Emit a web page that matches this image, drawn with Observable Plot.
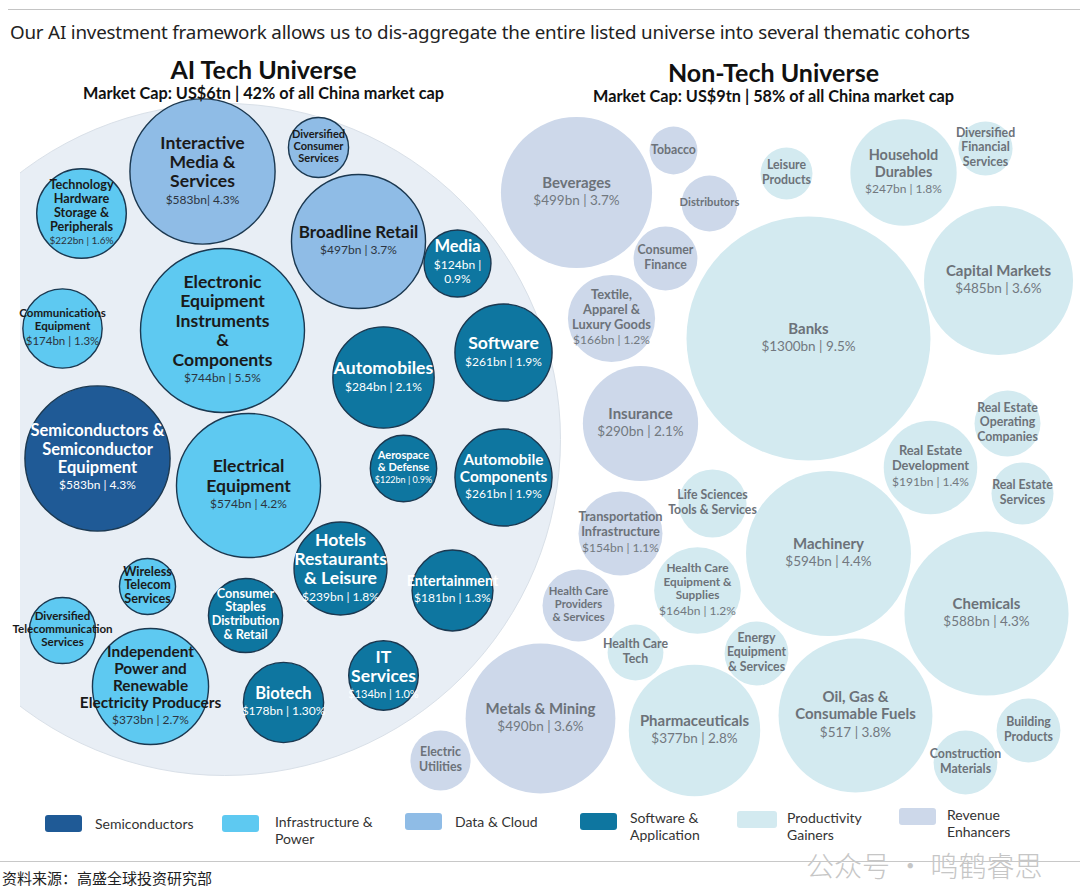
<!DOCTYPE html>
<html>
<head>
<meta charset="utf-8">
<script src="https://cdn.jsdelivr.net/npm/d3@7"></script>
<script src="https://cdn.jsdelivr.net/npm/@observablehq/plot@0.6"></script>
<style>
  html, body { margin: 0; padding: 0; background: #fff; }
  body { width: 1080px; height: 895px; position: relative; overflow: hidden; font-family: Lato, "Noto Sans", sans-serif; }
  #topline { position: absolute; left: 8px; right: 0; top: 9px; border-top: 1.5px solid #c4c4c4; }
  #title { position: absolute; left: 10px; top: 19px; font-size: 18.8px; color: #222; white-space: nowrap; font-family: "Noto Sans", Lato, sans-serif; letter-spacing: -0.2px; }
  #chart { position: absolute; left: 0; top: 50px; width: 1080px; height: 750px; }
  #chart svg { position: absolute; left: 0; top: 0; }
  .sw { position: absolute; height: 17px; border-radius: 3px; }
  .lg { position: absolute; font-size: 14px; line-height: 17px; color: #333; white-space: nowrap; }
  #botline { position: absolute; left: 0; right: 0; top: 861px; border-top: 1px solid #c8c8c8; }
  #foot { position: absolute; left: 2px; top: 867px; font-size: 15px; color: #222; font-family: "Noto Sans CJK SC", sans-serif; }
  #wm { position: absolute; left: 806px; top: 851px; font-size: 28px; line-height: 28px; color: #c6c6c6; font-family: "Noto Sans CJK SC", sans-serif; font-weight: 300; white-space: nowrap; }
</style>
</head>
<body>
<div id="topline"></div>
<div id="title"></div>
<div id="chart"></div>
<div id="legend"></div>
<div id="wm">公众号 · 鸣鹤睿思</div>
<div id="botline"></div>
<div id="foot"></div>
<script>
// ---------------- DATA ----------------
const chartTitle = "Our AI investment framework allows us to dis-aggregate the entire listed universe into several thematic cohorts";
const universeTitles = ["AI Tech Universe", "Non-Tech Universe"];
const universeSubtitles = ["Market Cap: US$6tn | 42% of all China market cap", "Market Cap: US$9tn | 58% of all China market cap"];
const sourceNote = "资料来源：高盛全球投资研究部";

const themes = ["Semiconductors", "Infrastructure & Power", "Data & Cloud", "Software & Application", "Productivity Gainers", "Revenue Enhancers"];
const legendLabels = ["Semiconductors", "Infrastructure &\nPower", "Data & Cloud", "Software &\nApplication", "Productivity\nGainers", "Revenue\nEnhancers"];

// AI Tech universe (market cap, US$bn; unlabeled bubbles estimated from size)
const aiCategories = [
  "Interactive\nMedia &\nServices",
  "Diversified\nConsumer\nServices",
  "Technology\nHardware\nStorage &\nPeripherals",
  "Broadline Retail",
  "Media",
  "Electronic\nEquipment\nInstruments\n&\nComponents",
  "Communications\nEquipment",
  "Automobiles",
  "Software",
  "Semiconductors &\nSemiconductor\nEquipment",
  "Electrical\nEquipment",
  "Aerospace\n& Defense",
  "Automobile\nComponents",
  "Hotels\nRestaurants\n& Leisure",
  "Entertainment",
  "Wireless\nTelecom\nServices",
  "Diversified\nTelecommunication\nServices",
  "Consumer\nStaples\nDistribution\n& Retail",
  "Independent\nPower and\nRenewable\nElectricity Producers",
  "Biotech",
  "IT\nServices"
];
const aiMarketCap = [583, 100, 222, 497, 124, 744, 174, 284, 261, 583, 574, 122, 261, 239, 181, 87, 121, 152, 373, 178, 134];
const aiCapText = ["$583bn| 4.3%", null, "$222bn | 1.6%", "$497bn | 3.7%", "$124bn |\n0.9%", "$744bn | 5.5%", "$174bn | 1.3%", "$284bn | 2.1%", "$261bn | 1.9%", "$583bn | 4.3%", "$574bn | 4.2%", "$122bn | 0.9%", "$261bn | 1.9%", "$239bn | 1.8%", "$181bn | 1.3%", null, null, null, "$373bn | 2.7%", "$178bn | 1.30%", "$134bn | 1.0%"];
const aiTheme = ["Data & Cloud", "Data & Cloud", "Infrastructure & Power", "Data & Cloud", "Software & Application", "Infrastructure & Power", "Infrastructure & Power", "Software & Application", "Software & Application", "Semiconductors", "Infrastructure & Power", "Software & Application", "Software & Application", "Software & Application", "Software & Application", "Infrastructure & Power", "Infrastructure & Power", "Software & Application", "Infrastructure & Power", "Software & Application", "Software & Application"];

// Non-Tech universe
const ntCategories = [
  "Beverages", "Tobacco", "Distributors", "Consumer\nFinance", "Leisure\nProducts",
  "Household\nDurables", "Diversified\nFinancial\nServices", "Textile,\nApparel &\nLuxury Goods", "Banks", "Capital Markets",
  "Insurance", "Real Estate\nOperating\nCompanies", "Real Estate\nDevelopment", "Real Estate\nServices", "Life Sciences\nTools & Services",
  "Transportation\nInfrastructure", "Machinery", "Chemicals", "Health Care\nProviders\n& Services", "Health Care\nEquipment &\nSupplies",
  "Health Care\nTech", "Energy\nEquipment\n& Services", "Metals & Mining", "Pharmaceuticals", "Oil, Gas &\nConsumable Fuels",
  "Electric\nUtilities", "Building\nProducts", "Construction\nMaterials"
];
const ntMarketCap = [499, 50, 68, 89, 59, 247, 64, 166, 1300, 485, 290, 95, 191, 84, 101, 154, 594, 588, 113, 164, 68, 89, 490, 377, 517, 79, 89, 89];
const ntCapText = ["$499bn | 3.7%", null, null, null, null, "$247bn | 1.8%", null, "$166bn | 1.2%", "$1300bn | 9.5%", "$485bn | 3.6%", "$290bn | 2.1%", null, "$191bn | 1.4%", null, null, "$154bn | 1.1%", "$594bn | 4.4%", "$588bn | 4.3%", null, "$164bn | 1.2%", null, null, "$490bn | 3.6%", "$377bn | 2.8%", "$517 | 3.8%", null, null, null];
const ntTheme = ["Revenue Enhancers", "Revenue Enhancers", "Revenue Enhancers", "Revenue Enhancers", "Productivity Gainers", "Productivity Gainers", "Productivity Gainers", "Revenue Enhancers", "Productivity Gainers", "Productivity Gainers", "Revenue Enhancers", "Productivity Gainers", "Productivity Gainers", "Productivity Gainers", "Productivity Gainers", "Revenue Enhancers", "Productivity Gainers", "Productivity Gainers", "Revenue Enhancers", "Productivity Gainers", "Productivity Gainers", "Productivity Gainers", "Revenue Enhancers", "Productivity Gainers", "Productivity Gainers", "Revenue Enhancers", "Productivity Gainers", "Productivity Gainers"];

// ---------------- LAYOUT (bubble-pack centres, chart units) ----------------
const aiCentres = [[202,171],[318,147],[81,213],[358,241],[457,263],[222,330],[62,328],[383,377],[503,352],[97,458],[248,485],[403,468],[503,477],[340,568],[452,590],[147,586],[62,630],[245,615],[150,686],[283,702],[383,675]];
const aiEnvelope = {x: 224, y: 439};
const ntCentres = [[576,192],[673,150],[709,203],[665,258],[786,173],[903,172],[985,148],[611,318],[808,338],[998,280],[640,423],[1007,423],[930,467],[1022,493],[712,503],[620,533],[828,553],[986,613],[578,605],[697,590],[635,652],[756,653],[540,718],[694,730],[855,715],[440,760],[1028,730],[965,762]];
const titleAnchors = [[263, 70], [773, 73]];

// ---------------- STYLE ----------------
const themeColors = ["#1f5a96", "#5ec9f1", "#8fbce6", "#0e76a0", "#d3eaf0", "#cdd8ea"];
const darkThemes = new Set(["Semiconductors", "Software & Application"]);
const aiNameSize = {"Broadline Retail": 15.5, "Semiconductors & Semiconductor Equipment": 15, "Biotech": 15, "Media": 15,
  "Automobile Components": 14, "Independent Power and Renewable Electricity Producers": 14, "Technology Hardware Storage & Peripherals": 11.5,
  "Communications Equipment": 10.5, "Consumer Staples Distribution & Retail": 11.5, "Wireless Telecom Services": 11.5,
  "Diversified Telecommunication Services": 10.5, "Diversified Consumer Services": 10, "Aerospace & Defense": 10, "Entertainment": 13};
const aiValSize = {"Technology Hardware Storage & Peripherals": 10, "Aerospace & Defense": 9, "Communications Equipment": 11.5, "IT Services": 11};
const ntNameSize = {"Household Durables": 13.5, "Textile, Apparel & Luxury Goods": 12, "Transportation Infrastructure": 12,
  "Real Estate Development": 12, "Health Care Equipment & Supplies": 11, "Distributors": 10.5, "Health Care Providers & Services": 10.5,
  "Real Estate Services": 11.5, "Health Care Tech": 11.5, "Energy Equipment & Services": 11.5};

const FONT = "Lato, 'Noto Sans', sans-serif";
const W = 1080, H = 750, TOP = 50;

function rows(names, caps, texts, th, centres) {
  return names.map((name, i) => ({
    name, key: name.replace(/\n/g, " "), cap: caps[i], capText: texts[i], theme: th[i],
    x: centres[i][0], y: centres[i][1]
  }));
}
const ai = rows(aiCategories, aiMarketCap, aiCapText, aiTheme, aiCentres);
const nt = rows(ntCategories, ntMarketCap, ntCapText, ntTheme, ntCentres);

const VLH = 1.2, GAP = 1;
function sizes(d, nameMap, valMap, defName, defVal, smallName, widen, nlh) {
  let ns = nameMap[d.key];
  if (ns == null) ns = (d.capText == null && smallName) ? smallName : defName;
  ns *= widen;
  const vs = (valMap && valMap[d.key]) || defVal;
  const nl = d.name.split("\n").length;
  const vl = d.capText ? d.capText.split("\n").length : 0;
  const nh = nl * nlh * ns;
  const total = nh + (vl ? GAP + vl * VLH * vs : 0);
  return {ns, vs, top: d.y - total / 2, valTop: d.y - total / 2 + nh + GAP};
}
const AI_LH = 1.1, NT_LH = 1.16;
const aiS = d => sizes(d, aiNameSize, aiValSize, 16, 12, null, 1.1, AI_LH);
const ntS = d => {
  const big = d.cap >= 280;
  return sizes(d, ntNameSize, null, big ? 14 : 12.5, big ? 13.5 : 12, 11.5, 1.07, NT_LH);
};

function labelMarks(data, S, keep, nameFill, valFill, nlh) {
  return [
    Plot.text(data, {filter: keep, x: "x", y: d => S(d).top, text: "name", lineAnchor: "top", lineHeight: nlh,
      fontSize: d => S(d).ns, fontWeight: 700, fill: nameFill, fontFamily: FONT}),
    Plot.text(data, {filter: d => keep(d) && d.capText, x: "x", y: d => S(d).valTop, text: "capText", lineAnchor: "top", lineHeight: VLH,
      fontSize: d => S(d).vs, fontWeight: 400, fill: valFill, fontFamily: FONT})
  ];
}

const common = {
  width: W, height: H, marginTop: 0, marginRight: 0, marginBottom: 0, marginLeft: 20,
  x: {domain: [20, W], axis: null},
  y: {domain: [TOP, TOP + H], range: [0, H], axis: null},
  color: {domain: themes, range: themeColors},
  style: {background: "transparent", fontFamily: FONT, overflow: "visible"}
};
const headMarks = i => [
  Plot.text([universeTitles[i]], {x: titleAnchors[i][0], y: titleAnchors[i][1], text: d => d, fontSize: 25, fontWeight: 700, fill: "#111", fontFamily: FONT}),
  Plot.text([universeSubtitles[i]], {x: titleAnchors[i][0], y: titleAnchors[i][1] + 23, text: d => d, fontSize: 16.3, fontWeight: 700, fill: "#111", fontFamily: FONT})
];

// AI Tech universe panel
const aiPlot = Plot.plot({
  ...common,
  r: {type: "sqrt", domain: [0, 744], range: [0, 82]},
  marks: [
    Plot.dot([aiEnvelope], {x: "x", y: "y", r: 336, fill: "#e8eef5", stroke: "#d9e0e8", strokeWidth: 1, clip: "frame"}),
    Plot.dot(ai, {x: "x", y: "y", r: "cap", fill: "theme", stroke: "#1b3850", strokeWidth: 1.4}),
    ...labelMarks(ai, aiS, d => darkThemes.has(d.theme), "#ffffff", "#ffffff", AI_LH),
    ...labelMarks(ai, aiS, d => !darkThemes.has(d.theme), "#1a1a1a", "#2c3440", AI_LH),
    ...headMarks(0)
  ]
});

// Non-Tech universe panel
const ntPlot = Plot.plot({
  ...common,
  r: {type: "sqrt", domain: [0, 1300], range: [0, 122]},
  marks: [
    Plot.dot(nt, {x: "x", y: "y", r: "cap", fill: "theme"}),
    ...labelMarks(nt, ntS, d => true, "#6c7279", "#72787f", NT_LH),
    ...headMarks(1)
  ]
});

document.getElementById("title").textContent = chartTitle;
document.getElementById("chart").append(aiPlot, ntPlot);
document.getElementById("foot").textContent = sourceNote;

// Legend (HTML, below the SVG)
const legendPos = [[45, 815, 95, 815, 37], [222, 815, 275, 813, 37], [405, 813, 455, 813, 37], [580, 813, 630, 809, 37], [737, 811, 787, 809, 40], [899, 808, 947, 806, 37]];
const legend = document.getElementById("legend");
themes.forEach((t, i) => {
  const [sx, sy, tx, ty, sw] = legendPos[i];
  const s = document.createElement("div");
  s.className = "sw";
  s.style.cssText = `left:${sx}px;top:${sy}px;width:${sw}px;background:${themeColors[i]}`;
  const l = document.createElement("div");
  l.className = "lg";
  l.style.cssText = `left:${tx}px;top:${ty}px`;
  l.innerHTML = legendLabels[i].split("\n").join("<br>");
  legend.append(s, l);
});
</script>
</body>
</html>
